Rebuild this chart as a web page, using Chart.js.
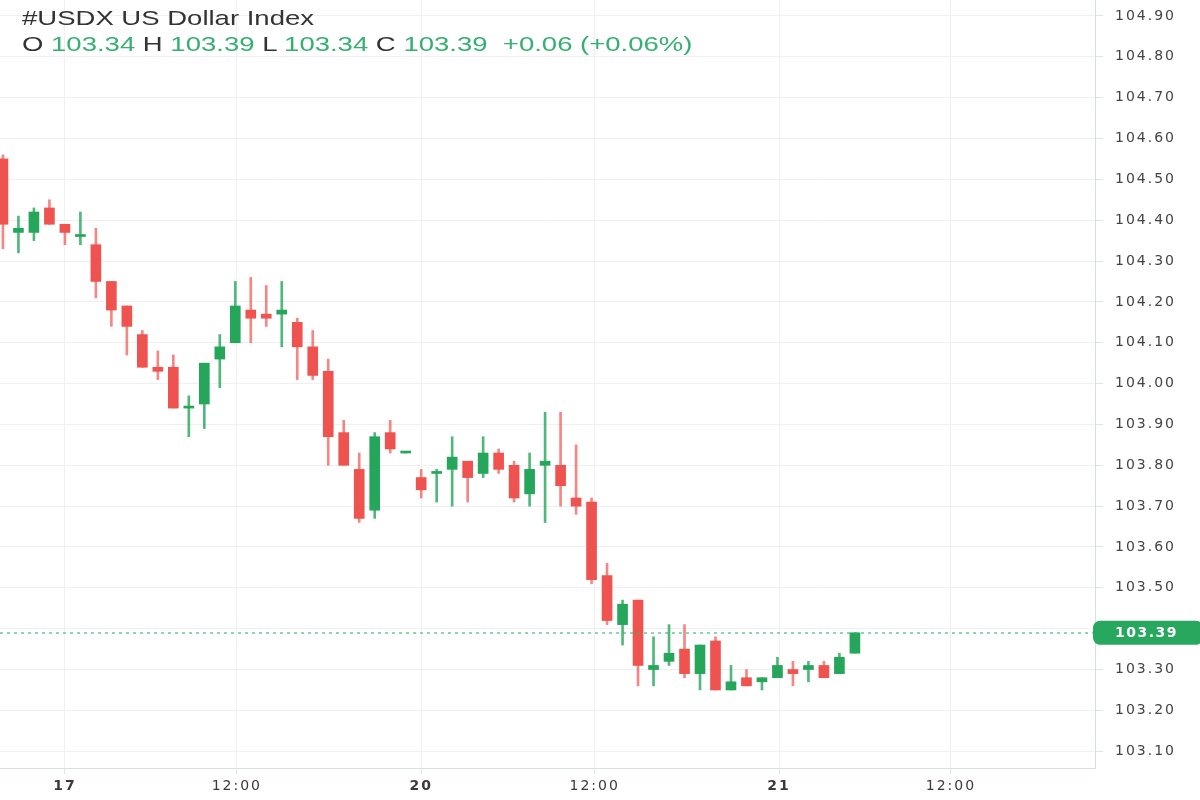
<!DOCTYPE html>
<html>
<head>
<meta charset="utf-8">
<script src="https://cdn.jsdelivr.net/npm/chart.js@4"></script>
<style>
  html, body { margin: 0; padding: 0; background: #fff; }
  #wrap { position: relative; width: 1200px; height: 800px; }
  .hdr { position: absolute; left: 22px; font-family: "Liberation Sans", Arial, sans-serif; font-size: 21px; color: #333;
         transform: scaleX(1.31); transform-origin: left center; white-space: pre; }
  .hdr .g { color: #35b072; }
</style>
</head>
<body>
<div id="wrap">
  <canvas id="usdx"></canvas>
  <div class="hdr" style="top:6px">#USDX US Dollar Index</div>
  <div class="hdr" style="top:32px">O <span class="g">103.34</span> H <span class="g">103.39</span> L <span class="g">103.34</span> C <span class="g">103.39</span>  <span class="g">+0.06 (+0.06%)</span></div>
</div>
<script>
// hourly candles
const opens  = [104.55,104.37,104.37,104.43,104.39,104.36,104.34,104.25,104.19,104.12,104.04,104.04,103.94,103.95,104.06,104.10,104.18,104.17,104.17,104.15,104.09,104.03,103.88,103.79,103.69,103.88,103.83,103.77,103.78,103.79,103.81,103.78,103.83,103.80,103.73,103.80,103.80,103.72,103.71,103.53,103.41,103.47,103.30,103.32,103.35,103.29,103.37,103.25,103.28,103.27,103.28,103.30,103.30,103.31,103.29,103.34];
const highs  = [104.56,104.41,104.43,104.45,104.39,104.42,104.38,104.25,104.19,104.13,104.08,104.07,103.97,104.05,104.12,104.25,104.26,104.24,104.25,104.16,104.13,104.06,103.91,103.83,103.88,103.91,103.83,103.79,103.79,103.87,103.81,103.87,103.84,103.81,103.83,103.93,103.93,103.85,103.72,103.56,103.47,103.47,103.38,103.41,103.41,103.36,103.38,103.31,103.30,103.28,103.33,103.32,103.32,103.32,103.34,103.39];
const lows   = [104.33,104.32,104.35,104.39,104.34,104.34,104.21,104.14,104.07,104.04,104.01,103.94,103.87,103.89,103.99,104.10,104.10,104.14,104.09,104.01,104.01,103.80,103.80,103.66,103.67,103.83,103.83,103.72,103.71,103.70,103.71,103.77,103.78,103.71,103.70,103.66,103.70,103.68,103.51,103.41,103.36,103.26,103.26,103.31,103.28,103.25,103.25,103.25,103.26,103.25,103.28,103.26,103.27,103.28,103.29,103.34];
const closes = [104.39,104.38,104.42,104.39,104.37,104.365,104.25,104.18,104.14,104.04,104.03,103.94,103.945,104.05,104.09,104.19,104.16,104.16,104.18,104.09,104.02,103.87,103.80,103.67,103.87,103.84,103.83,103.74,103.785,103.82,103.77,103.83,103.79,103.72,103.79,103.81,103.75,103.70,103.52,103.42,103.46,103.31,103.31,103.34,103.29,103.36,103.25,103.27,103.26,103.28,103.31,103.29,103.31,103.28,103.33,103.39];

const xTickPos    = [4, 15.1, 27, 38.2, 50.1, 61.2];
const xTickLabels = ['17', '12:00', '20', '12:00', '21', '12:00'];
const yTicks = [103.1,103.2,103.3,103.4,103.5,103.6,103.7,103.8,103.9,104.0,104.1,104.2,104.3,104.4,104.5,104.6,104.7,104.8,104.9];
const lastPrice = 103.39;

const UP = '#26a65b', DOWN = '#ef5350';
const candleColor = closes.map((c, i) => c >= opens[i] ? UP : DOWN);
const wickColor = closes.map((c, i) => c >= opens[i] ? 'rgba(38,166,91,0.8)' : 'rgba(239,83,80,0.7)');

const bodies = opens.map((o, i) => ({ x: i, y: [o, closes[i]] }));
const wicks  = highs.map((h, i) => ({ x: i, y: [lows[i], h] }));

const lastPricePlugin = {
  id: 'lastPrice',
  beforeDraw(chart) { chart.ctx.letterSpacing = '2px'; },
  afterDatasetsDraw(chart) {
    const { ctx, chartArea, scales } = chart;
    const y = Math.round(scales.y.getPixelForValue(lastPrice));
    ctx.save();
    ctx.strokeStyle = 'rgba(52,182,112,0.75)';
    ctx.lineWidth = 1.6;
    ctx.setLineDash([3, 4]);
    ctx.beginPath();
    ctx.moveTo(chartArea.left, y);
    ctx.lineTo(chartArea.right, y);
    ctx.stroke();
    ctx.restore();
  },
  afterDraw(chart) {
    const { ctx, chartArea, scales } = chart;
    const y = scales.y.getPixelForValue(lastPrice);
    ctx.save();
    ctx.fillStyle = '#27a85e';
    ctx.beginPath();
    ctx.roundRect(chartArea.right - 2, y - 12, 110, 24, 7);
    ctx.fill();
    ctx.fillStyle = '#fff';
    ctx.font = 'bold 14px "DejaVu Sans"';
    ctx.letterSpacing = '1.5px';
    ctx.textBaseline = 'middle';
    ctx.fillText(lastPrice.toFixed(2), chartArea.right + 20, y + 1);
    ctx.restore();
  }
};

new Chart(document.getElementById('usdx'), {
  type: 'bar',
  data: {
    datasets: [
      { data: wicks, backgroundColor: wickColor, barThickness: 2, grouped: false, order: 2 },
      { data: bodies, backgroundColor: candleColor, barThickness: 10, minBarLength: 2, grouped: false, order: 1 }
    ]
  },
  options: {
    responsive: true,
    maintainAspectRatio: false,
    animation: false,
    layout: { padding: 0 },
    plugins: { legend: { display: false }, tooltip: { enabled: false } },
    scales: {
      x: {
        type: 'linear',
        min: -0.19,
        max: 70.5,
        offset: false,
        grid: { offset: false, color: '#eef0f3', tickLength: 6, tickColor: '#e3e7ec' },
        border: { color: '#d8dee6' },
        afterBuildTicks: s => { s.ticks = xTickPos.map(v => ({ value: v })); },
        afterFit: s => { s.height = 32; s.paddingLeft = 0; s.paddingRight = 0; },
        ticks: {
          autoSkip: false,
          maxRotation: 0,
          padding: 4,
          color: '#3a3a3a',
          font: c => ({ family: 'DejaVu Sans', size: 14, weight: xTickLabels[c.index] && xTickLabels[c.index].includes(':') ? 'normal' : 'bold' }),
          callback: (v, i) => xTickLabels[i]
        }
      },
      y: {
        position: 'right',
        min: 103.059,
        max: 104.939,
        beginAtZero: false,
        grid: { color: '#eef0f3', tickLength: 8, tickColor: '#dfe4ea' },
        border: { color: '#d8dee6' },
        afterBuildTicks: s => { s.ticks = yTicks.map(v => ({ value: v })); },
        afterFit: s => { s.width = 105; s.paddingTop = 0; s.paddingBottom = 0; },
        ticks: {
          padding: 12,
          color: '#444',
          font: { family: 'DejaVu Sans', size: 14 },
          callback: v => v.toFixed(2)
        }
      }
    }
  },
  plugins: [lastPricePlugin]
});
</script>
</body>
</html>
